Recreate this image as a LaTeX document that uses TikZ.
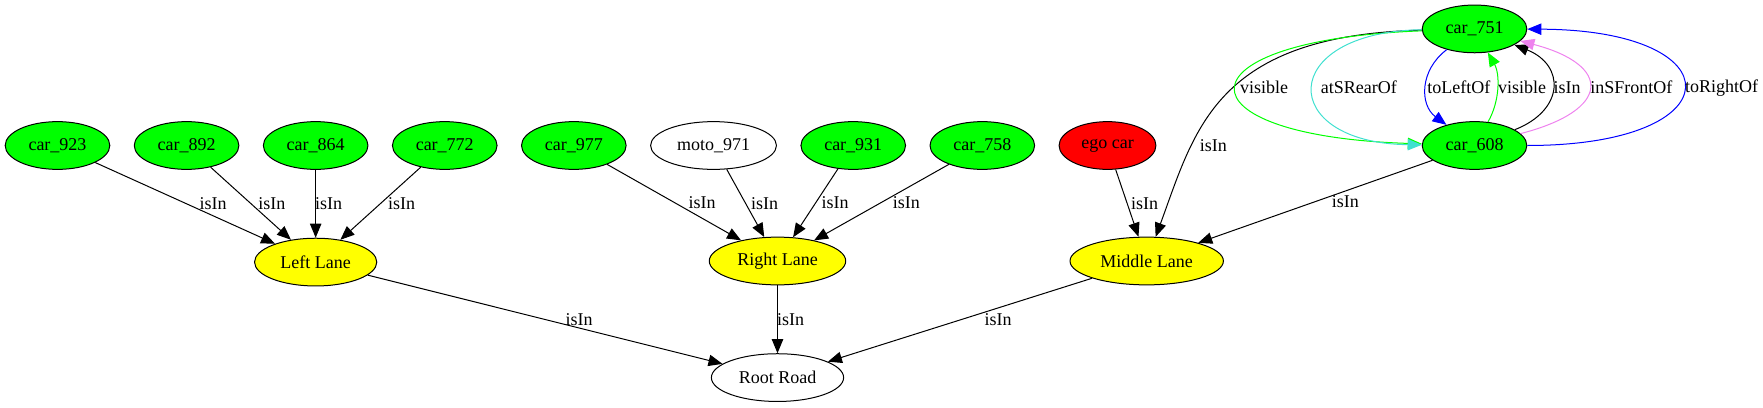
\documentclass[tikz,border=0pt]{standalone}
\usepackage{fontspec}
\setmainfont{Liberation Serif}
\usetikzlibrary{positioning,arrows.meta,shapes.geometric}
\definecolor{CarGreen}{HTML}{00FF00}
\definecolor{EgoRed}{HTML}{FF0000}
\definecolor{LaneYellow}{HTML}{FFFF00}
\definecolor{RelBlue}{HTML}{0000FF}
\definecolor{RelTurquoise}{HTML}{40E0D0}
\definecolor{RelViolet}{HTML}{EE82EE}

\begin{document}
\begin{tikzpicture}[x=0.75pt, y=-0.75pt,
    obj/.style={ellipse, draw=black, line width=0.75pt, inner xsep=6pt, inner ysep=1pt,
      minimum height=35.8pt, font=\fontsize{13.5}{16}\selectfont},
    car/.style={obj, fill=CarGreen},
    lane/.style={obj, fill=LaneYellow},
    rel/.style={line width=0.75pt, -{Triangle[length=10.5pt, width=8.5pt]}},
    lbl/.style={font=\fontsize{13.5}{16}\selectfont, inner sep=0.5pt},
    node distance=17.6pt]
  \useasboundingbox (0,0) rectangle (1763,407);
  \node[car] (c923) at (57.5,145.5) {car\_923};
  \node[car, right=of c923] (c892) {car\_892};
  \node[car, right=of c892] (c864) {car\_864};
  \node[car, right=of c864] (c772) {car\_772};
  \node[car, right=of c772] (c977) {car\_977};
  \node[obj, right=of c977] (m971) {moto\_971};
  \node[car, right=of m971] (c931) {car\_931};
  \node[car, right=of c931] (c758) {car\_758};
  \node[obj, fill=EgoRed, right=of c758] (ego) {ego car};
  \node[car] (c608) at (1474.5,145.5) {car\_608};
  \node[car, above=50.9pt of c608] (c751) {car\_751};
  \node[lane, below=50.9pt of c864] (ll) {Left Lane};
  \node[lane] (rl) at (777.5,261) {Right Lane};
  \node[lane] (ml) at (1146.7,261) {Middle Lane};
  \node[obj, below=50.9pt of rl] (rr) {Root Road};

  \draw[rel] (c923) -- node[lbl, shift={(28,0)}] {isIn} (ll);
  \draw[rel] (c892) -- node[lbl, shift={(21,0)}] {isIn} (ll);
  \draw[rel] (c864) -- node[lbl, shift={(13,0)}] {isIn} (ll);
  \draw[rel] (c772) -- node[lbl, shift={(21,0)}] {isIn} (ll);
  \draw[rel] (c977) -- node[lbl, shift={(28,0)}] {isIn} (rl);
  \draw[rel] (m971) -- node[lbl, shift={(19,0)}] {isIn} (rl);
  \draw[rel] (c931) -- node[lbl, shift={(19.5,0)}] {isIn} (rl);
  \draw[rel] (c758) -- node[lbl, shift={(25,0)}] {isIn} (rl);
  \draw[rel] (ego) -- node[lbl, shift={(17.6,0)}] {isIn} (ml);
  \draw[rel] (c608) -- node[lbl, shift={(30,0)}] {isIn} (ml);
  \draw[rel] (ll) -- node[lbl, shift={(34,0)}] {isIn} (rr);
  \draw[rel] (rl) -- node[lbl, shift={(13,0)}] {isIn} (rr);
  \draw[rel] (ml) -- node[lbl, shift={(38,0)}] {isIn} (rr);

  \draw[rel] (c751) .. controls (1215,35) and (1195,130) .. (ml)
    node[lbl, pos=0.7, shift={(22,0)}] {isIn};
  \draw[rel, draw=CarGreen] (c751) .. controls (1174,40) and (1174,136) .. (c608)
    node[lbl, pos=0.5, anchor=west, shift={(3,0)}] {visible};
  \draw[rel, draw=RelTurquoise] (c751) .. controls (1276.5,32) and (1276.5,143) .. (c608)
    node[lbl, pos=0.5, anchor=west, shift={(7,0)}] {atSRearOf};
  \draw[rel, draw=RelBlue] (c751) .. controls (1419.5,70) and (1419.5,105) .. (c608)
    node[lbl, pos=0.5, anchor=west] {toLeftOf};
  \draw[rel, draw=CarGreen] (c608) .. controls (1500,101) and (1500,74) .. (c751)
    node[lbl, pos=0.5, anchor=west] {visible};
  \draw[rel] (c608) .. controls (1565,110) and (1565,65) .. (c751)
    node[lbl, pos=0.5, anchor=west] {isIn};
  \draw[rel, draw=RelViolet] (c608) .. controls (1612,110) and (1612,65) .. (c751)
    node[lbl, pos=0.5, anchor=west] {inSFrontOf};
  \draw[rel, draw=RelBlue] (c608) .. controls (1736,145.5) and (1736,30) .. (c751)
    node[lbl, pos=0.5, anchor=west] {toRightOf};
\end{tikzpicture}
\end{document}
